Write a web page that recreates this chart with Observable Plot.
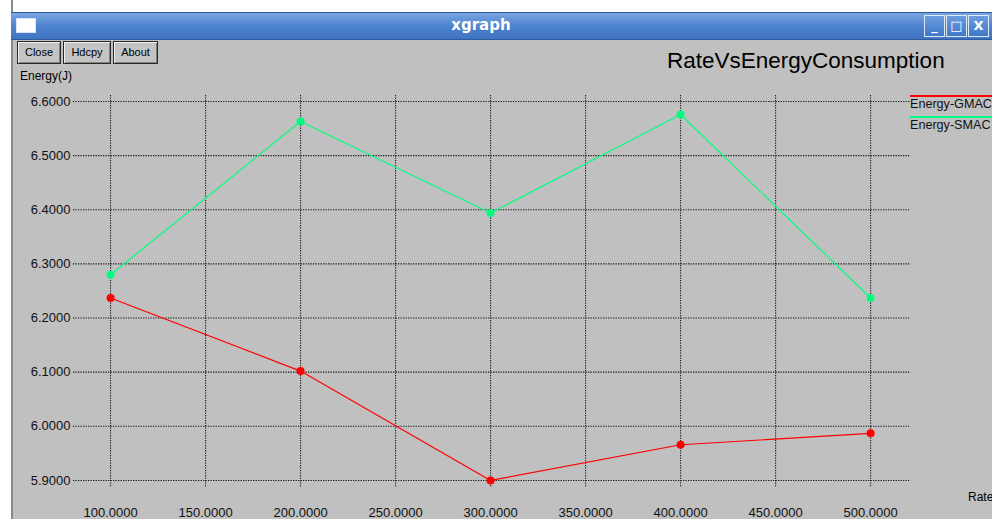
<!DOCTYPE html>
<html><head><meta charset="utf-8">
<script src="https://cdn.jsdelivr.net/npm/d3@7"></script>
<script src="https://cdn.jsdelivr.net/npm/@observablehq/plot@0.6"></script>
<style>
body{margin:0;background:#fff;}
#win{position:relative;width:992px;height:519px;background:#c0c0c0;overflow:hidden;font-family:"Liberation Sans",Arial,sans-serif;}
#chart{position:absolute;left:0;top:0;}
.abs{position:absolute;}
#topstrip{left:0;top:0;width:992px;height:12px;background:#fff;}
#leftstrip{left:0;top:0;width:11px;height:519px;background:#fff;border-right:2px solid #8a8a8a;}
#titlebar{left:11px;top:12px;width:990px;height:26px;background:linear-gradient(#79a6e3,#4a80cc 55%,#3f75c2);border-top:1px solid #2c5a9c;border-bottom:1px solid #2c5a9c;}
#ttext{left:0;top:16px;width:962px;text-align:center;color:#fff;font:bold 15px "DejaVu Sans",sans-serif;}
#icon{left:16px;top:18px;width:18px;height:13px;background:#fff;border:1px solid #d8e4f5;}
.wbtn{top:15px;width:19px;height:20px;border:1px solid #dfe9f8;background:linear-gradient(#6d9de0,#3f77c8);color:#fff;font:bold 13px "DejaVu Sans",sans-serif;text-align:center;line-height:20px;}
.btn{top:41px;height:21px;border:1px solid #2a2a2a;box-shadow:inset 1px 1px 0 #f0f0f0,inset -1px -1px 0 #808080;background:#c4c4c4;font-size:11px;line-height:21px;text-align:center;color:#000;}
#title{left:667px;top:48px;font-size:22.5px;color:#000;white-space:nowrap;}
#ylab{left:20px;top:69px;font-size:12px;color:#000;}
#xlab{left:968px;top:490px;font-size:12px;color:#000;}
.leg{left:910px;width:100px;font-size:12.6px;color:#111;white-space:nowrap;}
.legline{left:910px;width:90px;height:2px;}
</style></head><body>
<div id="win">
<div id="chart"></div>
<div class="abs" id="topstrip"></div>
<div class="abs" id="leftstrip"></div>
<div class="abs" id="titlebar"></div>
<div class="abs" id="icon"></div>
<div class="abs" id="ttext">xgraph</div>
<div class="abs wbtn" style="left:924px">_</div>
<div class="abs wbtn" style="left:946px">□</div>
<div class="abs wbtn" style="left:968px">X</div>
<div class="abs btn" style="left:17px;width:42px">Close</div>
<div class="abs btn" style="left:63px;width:46px">Hdcpy</div>
<div class="abs btn" style="left:113px;width:43px">About</div>
<div class="abs" id="title">RateVsEnergyConsumption</div>
<div class="abs" id="ylab">Energy(J)</div>
<div class="abs" id="xlab">Rate</div>
<div id="legend"></div>
</div>
<script>
const rates = [100, 200, 300, 400, 500];
const gmac = [6.237, 6.102, 5.900, 5.966, 5.987];
const smac = [6.280, 6.563, 6.394, 6.576, 6.237];
const seriesNames = ["Energy-GMAC", "Energy-SMAC"];
const seriesColors = ["#ff0000", "#00ff7f"];
const xTicks = [100, 150, 200, 250, 300, 350, 400, 450, 500];
const yTicks = [5.9, 6.0, 6.1, 6.2, 6.3, 6.4, 6.5, 6.6];

const rows = [];
[gmac, smac].forEach((vals, i) => vals.forEach((v, j) => rows.push({series: seriesNames[i], rate: rates[j], energy: v})));

const grid = {stroke: "#1a1a1a", strokeOpacity: 1, strokeWidth: 1.1, strokeDasharray: "1.3,1.2"};

const chart = Plot.plot({
  width: 992, height: 519,
  marginLeft: 73, marginRight: 82, marginTop: 95, marginBottom: 32,
  style: {background: "transparent", fontFamily: "'Liberation Sans', Arial, sans-serif", fontSize: "13px", color: "#000"},
  x: {domain: [80.5, 521], axis: null},
  y: {domain: [5.887, 6.611], axis: null},
  color: {domain: seriesNames, range: seriesColors},
  marks: [
    Plot.ruleX(xTicks, grid),
    Plot.ruleY(yTicks, grid),
    Plot.axisX({ticks: xTicks, tickFormat: d3.format(".4f"), tickSize: 0, tickPadding: 20, label: null, fill: "#111"}),
    Plot.axisY({ticks: yTicks, tickFormat: d3.format(".4f"), tickSize: 0, tickPadding: 3, label: null, fill: "#111"}),
    Plot.line(rows, {x: "rate", y: "energy", z: "series", stroke: "series", strokeWidth: 1.2}),
    Plot.dot(rows, {x: "rate", y: "energy", fill: "series", r: 4})
  ]
});
document.getElementById("chart").appendChild(chart);

const legend = document.getElementById("legend");
seriesNames.forEach((name, i) => {
  const line = document.createElement("div");
  line.className = "abs legline";
  line.style.top = (95 + i * 21) + "px";
  line.style.background = seriesColors[i];
  legend.appendChild(line);
  const t = document.createElement("div");
  t.className = "abs leg";
  t.style.top = (97 + i * 21) + "px";
  t.textContent = name;
  legend.appendChild(t);
});
</script>
</body></html>
